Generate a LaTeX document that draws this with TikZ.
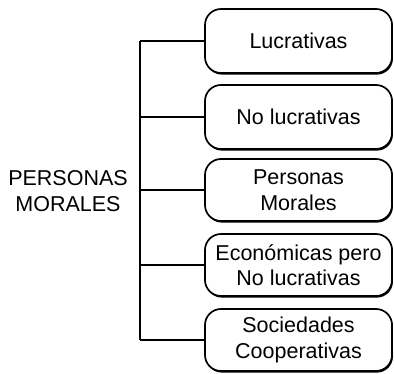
\documentclass[tikz,border=0pt]{standalone}
\usepackage{fontspec}
\setmainfont{Liberation Sans}
\usetikzlibrary{shadows}
\begin{document}
\begin{tikzpicture}[x=1pt,y=1pt,
  catbox/.style={draw=black, line width=1.7pt, rounded corners=16pt, fill=white,
    minimum width=187pt, align=center, inner sep=0pt,
    font=\fontsize{21.5}{25.5}\selectfont,
    drop shadow={shadow xshift=0.9pt, shadow yshift=-1.6pt, opacity=1, fill=black}},
  titletext/.style={align=center, font=\fontsize{21.5}{26}\selectfont},
  link/.style={draw=black, line width=1.8pt}]
\useasboundingbox[fill=white] (0,0) rectangle (394,373);
\node[catbox, minimum height=64pt] (b1) at (298.5,332) {Lucrativas};
\node[catbox, minimum height=64pt] (b2) at (298.5,256) {No lucrativas};
\node[catbox, minimum height=62pt] (b3) at (298.5,183) {Personas\\Morales};
\node[catbox, minimum height=62pt] (b4) at (298.5,108) {Económicas pero\\No lucrativas};
\node[catbox, minimum height=62pt] (b5) at (298.5,33) {Sociedades\\Cooperativas};
\node[titletext] (t) at (68,182) {PERSONAS\\MORALES};
\coordinate (sx) at (140,0);
\draw[link] (b1.west -| sx) -- (b5.west -| sx);
\foreach \b in {b1,b2,b3,b4,b5}{
  \draw[link] (\b.west -| sx) -- (\b.west);
}
\end{tikzpicture}
\end{document}
